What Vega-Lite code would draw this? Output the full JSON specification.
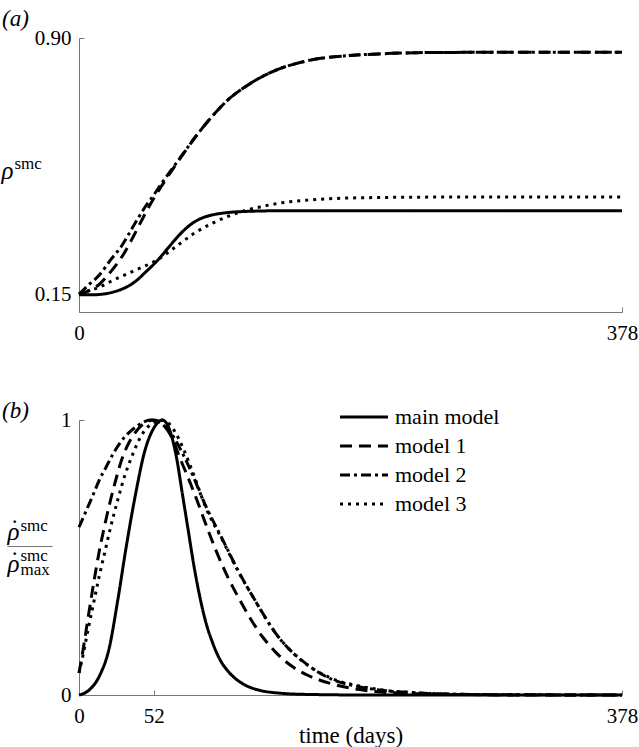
{
  "$schema": "https://vega.github.io/schema/vega-lite/v6.json",
  "autosize": {"type": "none"},
  "padding": {"left": 79, "top": 38, "right": 560, "bottom": 709},
  "bounds": "flush",
  "spacing": 108,
  "background": "white",
  "config": {
    "view": {"stroke": null},
    "font": "Liberation Serif",
    "axis": {
      "grid": false,
      "domainColor": "#777777",
      "domainWidth": 1,
      "tickColor": "#777777",
      "tickSize": -5,
      "labelFont": "Liberation Serif",
      "labelFontSize": 21,
      "labelColor": "black",
      "titleFont": "Liberation Serif",
      "titleFontWeight": "normal",
      "titleColor": "black",
      "titleFontSize": 21
    },
    "title": {"font": "Liberation Serif", "fontSize": 23, "fontWeight": "normal", "fontStyle": "italic", "color": "black"}
  },
  "datasets": {
    "a": [
      {"model": "main model", "day": 0, "v": 0.148}, {"model": "main model", "day": 10, "v": 0.148}, {"model": "main model", "day": 17, "v": 0.150}, {"model": "main model", "day": 23, "v": 0.155}, {"model": "main model", "day": 29, "v": 0.163}, {"model": "main model", "day": 35, "v": 0.175}, {"model": "main model", "day": 41, "v": 0.193}, {"model": "main model", "day": 46, "v": 0.213}, {"model": "main model", "day": 51, "v": 0.233}, {"model": "main model", "day": 56, "v": 0.255}, {"model": "main model", "day": 63, "v": 0.290}, {"model": "main model", "day": 70, "v": 0.324}, {"model": "main model", "day": 76, "v": 0.348}, {"model": "main model", "day": 81, "v": 0.363}, {"model": "main model", "day": 87, "v": 0.375}, {"model": "main model", "day": 93, "v": 0.382}, {"model": "main model", "day": 104, "v": 0.389}, {"model": "main model", "day": 116, "v": 0.392}, {"model": "main model", "day": 140, "v": 0.394}, {"model": "main model", "day": 200, "v": 0.394}, {"model": "main model", "day": 378, "v": 0.394},
      {"model": "model 1", "day": 0, "v": 0.148}, {"model": "model 1", "day": 7, "v": 0.160}, {"model": "model 1", "day": 14, "v": 0.178}, {"model": "model 1", "day": 22, "v": 0.215}, {"model": "model 1", "day": 30, "v": 0.260}, {"model": "model 1", "day": 38, "v": 0.320}, {"model": "model 1", "day": 46, "v": 0.385}, {"model": "model 1", "day": 52, "v": 0.430}, {"model": "model 1", "day": 58, "v": 0.470}, {"model": "model 1", "day": 64, "v": 0.508}, {"model": "model 1", "day": 70, "v": 0.545}, {"model": "model 1", "day": 81, "v": 0.610}, {"model": "model 1", "day": 93, "v": 0.672}, {"model": "model 1", "day": 104, "v": 0.720}, {"model": "model 1", "day": 116, "v": 0.758}, {"model": "model 1", "day": 128, "v": 0.788}, {"model": "model 1", "day": 139, "v": 0.809}, {"model": "model 1", "day": 151, "v": 0.825}, {"model": "model 1", "day": 162, "v": 0.836}, {"model": "model 1", "day": 186, "v": 0.848}, {"model": "model 1", "day": 212, "v": 0.854}, {"model": "model 1", "day": 235, "v": 0.857}, {"model": "model 1", "day": 280, "v": 0.858}, {"model": "model 1", "day": 378, "v": 0.858},
      {"model": "model 2", "day": 0, "v": 0.150}, {"model": "model 2", "day": 7, "v": 0.178}, {"model": "model 2", "day": 14, "v": 0.205}, {"model": "model 2", "day": 22, "v": 0.250}, {"model": "model 2", "day": 30, "v": 0.293}, {"model": "model 2", "day": 38, "v": 0.350}, {"model": "model 2", "day": 46, "v": 0.405}, {"model": "model 2", "day": 52, "v": 0.440}, {"model": "model 2", "day": 58, "v": 0.477}, {"model": "model 2", "day": 64, "v": 0.512}, {"model": "model 2", "day": 70, "v": 0.547}, {"model": "model 2", "day": 81, "v": 0.610}, {"model": "model 2", "day": 93, "v": 0.672}, {"model": "model 2", "day": 104, "v": 0.720}, {"model": "model 2", "day": 116, "v": 0.758}, {"model": "model 2", "day": 128, "v": 0.788}, {"model": "model 2", "day": 139, "v": 0.809}, {"model": "model 2", "day": 151, "v": 0.825}, {"model": "model 2", "day": 162, "v": 0.836}, {"model": "model 2", "day": 186, "v": 0.848}, {"model": "model 2", "day": 212, "v": 0.854}, {"model": "model 2", "day": 235, "v": 0.857}, {"model": "model 2", "day": 280, "v": 0.858}, {"model": "model 2", "day": 378, "v": 0.858},
      {"model": "model 3", "day": 0, "v": 0.150}, {"model": "model 3", "day": 7, "v": 0.160}, {"model": "model 3", "day": 14, "v": 0.170}, {"model": "model 3", "day": 23, "v": 0.189}, {"model": "model 3", "day": 33, "v": 0.208}, {"model": "model 3", "day": 42, "v": 0.225}, {"model": "model 3", "day": 50, "v": 0.240}, {"model": "model 3", "day": 56, "v": 0.254}, {"model": "model 3", "day": 63, "v": 0.275}, {"model": "model 3", "day": 70, "v": 0.297}, {"model": "model 3", "day": 81, "v": 0.330}, {"model": "model 3", "day": 93, "v": 0.358}, {"model": "model 3", "day": 104, "v": 0.378}, {"model": "model 3", "day": 116, "v": 0.395}, {"model": "model 3", "day": 128, "v": 0.407}, {"model": "model 3", "day": 139, "v": 0.416}, {"model": "model 3", "day": 162, "v": 0.426}, {"model": "model 3", "day": 195, "v": 0.432}, {"model": "model 3", "day": 250, "v": 0.434}, {"model": "model 3", "day": 378, "v": 0.434}
    ],
    "b": [
      {"model": "main model", "day": 0, "v": 0}, {"model": "main model", "day": 7, "v": 0.018}, {"model": "main model", "day": 14, "v": 0.067}, {"model": "main model", "day": 21, "v": 0.17}, {"model": "main model", "day": 27, "v": 0.345}, {"model": "main model", "day": 32.5, "v": 0.527}, {"model": "main model", "day": 39, "v": 0.72}, {"model": "main model", "day": 46, "v": 0.891}, {"model": "main model", "day": 52, "v": 0.97}, {"model": "main model", "day": 58, "v": 1.0}, {"model": "main model", "day": 64, "v": 0.95}, {"model": "main model", "day": 68, "v": 0.86}, {"model": "main model", "day": 72, "v": 0.73}, {"model": "main model", "day": 76, "v": 0.60}, {"model": "main model", "day": 80, "v": 0.47}, {"model": "main model", "day": 84, "v": 0.36}, {"model": "main model", "day": 88, "v": 0.27}, {"model": "main model", "day": 93, "v": 0.19}, {"model": "main model", "day": 98, "v": 0.13}, {"model": "main model", "day": 104, "v": 0.085}, {"model": "main model", "day": 110, "v": 0.055}, {"model": "main model", "day": 116, "v": 0.035}, {"model": "main model", "day": 125, "v": 0.018}, {"model": "main model", "day": 139, "v": 0.007}, {"model": "main model", "day": 160, "v": 0.002}, {"model": "main model", "day": 200, "v": 0.0}, {"model": "main model", "day": 378, "v": 0.0},
      {"model": "model 1", "day": 0, "v": 0.08}, {"model": "model 1", "day": 3, "v": 0.17}, {"model": "model 1", "day": 6, "v": 0.27}, {"model": "model 1", "day": 10, "v": 0.40}, {"model": "model 1", "day": 14, "v": 0.52}, {"model": "model 1", "day": 18, "v": 0.62}, {"model": "model 1", "day": 22, "v": 0.71}, {"model": "model 1", "day": 26, "v": 0.79}, {"model": "model 1", "day": 30, "v": 0.86}, {"model": "model 1", "day": 35, "v": 0.92}, {"model": "model 1", "day": 40, "v": 0.96}, {"model": "model 1", "day": 46, "v": 0.99}, {"model": "model 1", "day": 52, "v": 1.0}, {"model": "model 1", "day": 57, "v": 0.99}, {"model": "model 1", "day": 62, "v": 0.96}, {"model": "model 1", "day": 66, "v": 0.92}, {"model": "model 1", "day": 70, "v": 0.865}, {"model": "model 1", "day": 76, "v": 0.79}, {"model": "model 1", "day": 82, "v": 0.71}, {"model": "model 1", "day": 88, "v": 0.625}, {"model": "model 1", "day": 95, "v": 0.53}, {"model": "model 1", "day": 103, "v": 0.435}, {"model": "model 1", "day": 112, "v": 0.345}, {"model": "model 1", "day": 120, "v": 0.272}, {"model": "model 1", "day": 128, "v": 0.21}, {"model": "model 1", "day": 137, "v": 0.155}, {"model": "model 1", "day": 147, "v": 0.109}, {"model": "model 1", "day": 160, "v": 0.07}, {"model": "model 1", "day": 175, "v": 0.042}, {"model": "model 1", "day": 190, "v": 0.024}, {"model": "model 1", "day": 210, "v": 0.011}, {"model": "model 1", "day": 240, "v": 0.004}, {"model": "model 1", "day": 280, "v": 0.001}, {"model": "model 1", "day": 320, "v": 0}, {"model": "model 1", "day": 378, "v": 0},
      {"model": "model 2", "day": 0, "v": 0.61}, {"model": "model 2", "day": 5, "v": 0.67}, {"model": "model 2", "day": 10, "v": 0.73}, {"model": "model 2", "day": 14, "v": 0.78}, {"model": "model 2", "day": 19, "v": 0.83}, {"model": "model 2", "day": 23, "v": 0.87}, {"model": "model 2", "day": 29, "v": 0.92}, {"model": "model 2", "day": 35, "v": 0.955}, {"model": "model 2", "day": 41, "v": 0.98}, {"model": "model 2", "day": 46, "v": 0.995}, {"model": "model 2", "day": 50, "v": 1.0}, {"model": "model 2", "day": 55, "v": 0.995}, {"model": "model 2", "day": 60, "v": 0.975}, {"model": "model 2", "day": 65, "v": 0.945}, {"model": "model 2", "day": 70, "v": 0.9}, {"model": "model 2", "day": 77, "v": 0.825}, {"model": "model 2", "day": 88, "v": 0.69}, {"model": "model 2", "day": 100, "v": 0.565}, {"model": "model 2", "day": 111, "v": 0.45}, {"model": "model 2", "day": 123, "v": 0.34}, {"model": "model 2", "day": 139, "v": 0.21}, {"model": "model 2", "day": 158, "v": 0.114}, {"model": "model 2", "day": 176, "v": 0.057}, {"model": "model 2", "day": 195, "v": 0.03}, {"model": "model 2", "day": 211, "v": 0.017}, {"model": "model 2", "day": 235, "v": 0.008}, {"model": "model 2", "day": 260, "v": 0.003}, {"model": "model 2", "day": 300, "v": 0.001}, {"model": "model 2", "day": 378, "v": 0},
      {"model": "model 3", "day": 0, "v": 0.08}, {"model": "model 3", "day": 3, "v": 0.15}, {"model": "model 3", "day": 6, "v": 0.23}, {"model": "model 3", "day": 10, "v": 0.33}, {"model": "model 3", "day": 14, "v": 0.43}, {"model": "model 3", "day": 18, "v": 0.52}, {"model": "model 3", "day": 22, "v": 0.61}, {"model": "model 3", "day": 27, "v": 0.71}, {"model": "model 3", "day": 32, "v": 0.80}, {"model": "model 3", "day": 37, "v": 0.87}, {"model": "model 3", "day": 42, "v": 0.93}, {"model": "model 3", "day": 47, "v": 0.97}, {"model": "model 3", "day": 52, "v": 0.99}, {"model": "model 3", "day": 57, "v": 1.0}, {"model": "model 3", "day": 63, "v": 0.985}, {"model": "model 3", "day": 69.6, "v": 0.93}, {"model": "model 3", "day": 76.6, "v": 0.845}, {"model": "model 3", "day": 82, "v": 0.77}, {"model": "model 3", "day": 88, "v": 0.685}, {"model": "model 3", "day": 100, "v": 0.562}, {"model": "model 3", "day": 111, "v": 0.448}, {"model": "model 3", "day": 123, "v": 0.34}, {"model": "model 3", "day": 131, "v": 0.27}, {"model": "model 3", "day": 139, "v": 0.21}, {"model": "model 3", "day": 148, "v": 0.158}, {"model": "model 3", "day": 158, "v": 0.113}, {"model": "model 3", "day": 176, "v": 0.06}, {"model": "model 3", "day": 195, "v": 0.033}, {"model": "model 3", "day": 211, "v": 0.018}, {"model": "model 3", "day": 235, "v": 0.008}, {"model": "model 3", "day": 260, "v": 0.003}, {"model": "model 3", "day": 300, "v": 0.001}, {"model": "model 3", "day": 378, "v": 0}
    ]
  },
  "resolve": {"scale": {"strokeDash": "independent"}, "legend": {"strokeDash": "independent"}},
  "vconcat": [
    {
      "width": 543,
      "height": 274,
      "title": {"text": "(a)", "anchor": "start", "frame": "group", "dx": -77, "offset": -4},
      "data": {"name": "a"},
      "layer": [
        {
          "mark": {"type": "line", "strokeWidth": 3, "interpolate": "monotone", "color": "black"},
          "encoding": {
            "x": {"field": "day", "type": "quantitative", "scale": {"domain": [0, 378], "nice": false},
                  "axis": {"values": [0, 378], "title": null, "labelFlush": false, "labelPadding": 15}},
            "y": {"field": "v", "type": "quantitative", "scale": {"domain": [0.0975, 0.9], "nice": false, "zero": false},
                  "axis": {"values": [0.15, 0.9], "format": ".2f", "labelPadding": 13, "title": "ρ", "titleAngle": 0, "titleX": -78, "titleY": 140, "titleAlign": "left", "titleBaseline": "alphabetic", "titleFontSize": 25, "titleFontStyle": "italic"}},
            "strokeDash": {"field": "model", "type": "nominal",
                  "scale": {"domain": ["main model", "model 1", "model 2", "model 3"], "range": [[1, 0], [12, 7], [10, 4, 3, 4], [3, 5]]},
                  "legend": null}
          }
        },
        {
          "mark": {"type": "line", "opacity": 0},
          "encoding": {
            "x": {"field": "day", "type": "quantitative", "scale": {"domain": [0, 378], "nice": false}},
            "y": {"field": "v", "type": "quantitative", "scale": {"domain": [0.0975, 0.9], "nice": false, "zero": false},
                  "axis": {"orient": "left", "domain": false, "ticks": false, "labels": false, "title": "smc", "titleAngle": 0, "titleX": -65, "titleY": 130, "titleAlign": "left", "titleBaseline": "alphabetic", "titleFontSize": 17}}
          }
        }
      ],
      "resolve": {"axis": {"y": "independent"}}
    },
    {
      "width": 543,
      "height": 275,
      "title": {"text": "(b)", "anchor": "start", "frame": "group", "dx": -77, "offset": -16},
      "data": {"name": "b"},
      "layer": [
        {
          "mark": {"type": "line", "strokeWidth": 3, "interpolate": "monotone", "color": "black"},
          "encoding": {
            "x": {"field": "day", "type": "quantitative", "scale": {"domain": [0, 378], "nice": false},
                  "axis": {"values": [0, 52, 378], "labelFlush": false, "labelPadding": 15, "title": "time (days)", "titleFontSize": 23, "titleY": 47, "titleBaseline": "alphabetic"}},
            "y": {"field": "v", "type": "quantitative", "scale": {"domain": [0, 1], "nice": false},
                  "axis": {"values": [0, 1], "format": "d", "labelPadding": 13, "title": null}},
            "strokeDash": {"field": "model", "type": "nominal",
                  "scale": {"domain": ["main model", "model 1", "model 2", "model 3"], "range": [[1, 0], [12, 7], [10, 4, 3, 4], [3, 5]]},
                  "legend": {"orient": "none", "legendX": 259.5, "legendY": -13.5, "title": null, "padding": 0,
                             "symbolType": "stroke", "symbolSize": 2304, "symbolStrokeWidth": 3, "symbolStrokeColor": "black",
                             "clipHeight": 21, "rowPadding": 6, "labelOffset": 5.5,
                             "labelFont": "Liberation Serif", "labelFontSize": 22, "labelColor": "black"}}
          }
        },
        {
          "mark": {"type": "line", "opacity": 0},
          "encoding": {
            "x": {"field": "day", "type": "quantitative", "scale": {"domain": [0, 378], "nice": false}},
            "y": {"field": "v", "type": "quantitative", "scale": {"domain": [0, 1], "nice": false},
                  "axis": {"orient": "left", "domain": false, "ticks": false, "labels": false, "title": ["ρ", "ρ"], "titleLineHeight": 32, "titleAngle": 0, "titleX": -72, "titleY": 119, "titleAlign": "left", "titleBaseline": "alphabetic", "titleFontSize": 25, "titleFontStyle": "italic"}}
          }
        },
        {
          "mark": {"type": "line", "opacity": 0},
          "encoding": {
            "x": {"field": "day", "type": "quantitative", "scale": {"domain": [0, 378], "nice": false}},
            "y": {"field": "v", "type": "quantitative", "scale": {"domain": [0, 1], "nice": false},
                  "axis": {"orient": "left", "domain": false, "ticks": false, "labels": false, "title": ["˙", "˙"], "titleLineHeight": 32, "titleAngle": 0, "titleX": -69, "titleY": 116, "titleAlign": "left", "titleBaseline": "alphabetic", "titleFontSize": 25}}
          }
        },
        {
          "mark": {"type": "line", "opacity": 0},
          "encoding": {
            "x": {"field": "day", "type": "quantitative", "scale": {"domain": [0, 378], "nice": false}},
            "y": {"field": "v", "type": "quantitative", "scale": {"domain": [0, 1], "nice": false},
                  "axis": {"orient": "left", "domain": false, "ticks": false, "labels": false, "title": ["smc", "smc"], "titleLineHeight": 30, "titleAngle": 0, "titleX": -59, "titleY": 110, "titleAlign": "left", "titleBaseline": "alphabetic", "titleFontSize": 17}}
          }
        },
        {
          "mark": {"type": "line", "opacity": 0},
          "encoding": {
            "x": {"field": "day", "type": "quantitative", "scale": {"domain": [0, 378], "nice": false}},
            "y": {"field": "v", "type": "quantitative", "scale": {"domain": [0, 1], "nice": false},
                  "axis": {"orient": "left", "domain": false, "ticks": false, "labels": false, "title": "max", "titleAngle": 0, "titleX": -59, "titleY": 154, "titleAlign": "left", "titleBaseline": "alphabetic", "titleFontSize": 17}}
          }
        },
        {
          "mark": {"type": "line", "opacity": 0},
          "encoding": {
            "x": {"field": "day", "type": "quantitative", "scale": {"domain": [0, 378], "nice": false}},
            "y": {"field": "v", "type": "quantitative", "scale": {"domain": [0, 1], "nice": false},
                  "axis": {"orient": "left", "domain": false, "ticks": false, "labels": false, "title": "———", "titleAngle": 0, "titleX": -72, "titleY": 129.5, "titleAlign": "left", "titleBaseline": "alphabetic", "titleFontSize": 15}}
          }
        }
      ],
      "resolve": {"axis": {"y": "independent"}}
    }
  ]
}
